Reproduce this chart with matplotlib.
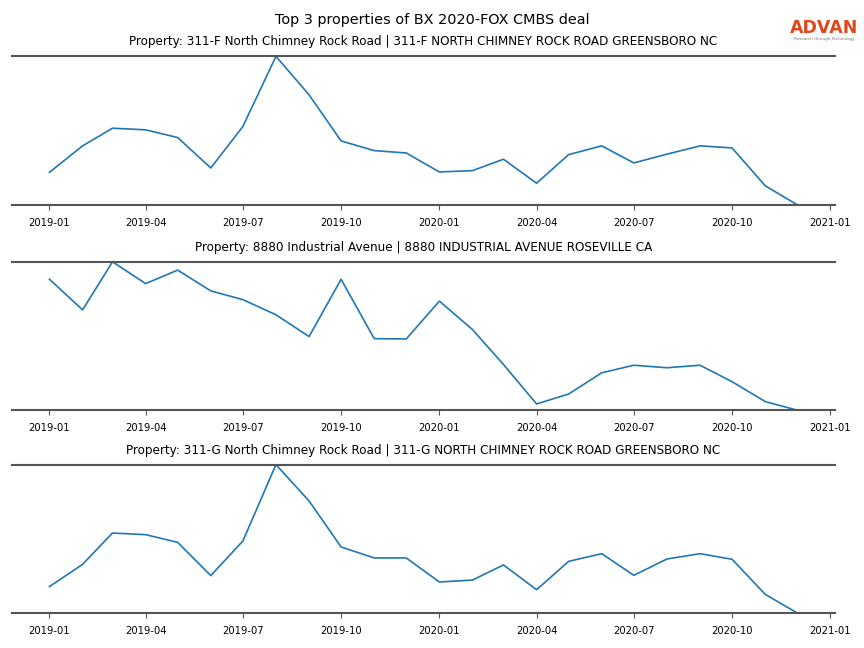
import numpy as np
import pandas as pd
import matplotlib
matplotlib.use('Agg')
import matplotlib.pyplot as plt

months = pd.date_range('2019-01-01', '2020-12-01', freq='MS')

titles = ['Property: 311-F North Chimney Rock Road | 311-F NORTH CHIMNEY ROCK ROAD GREENSBORO NC',
          'Property: 8880 Industrial Avenue | 8880 INDUSTRIAL AVENUE ROSEVILLE CA',
          'Property: 311-G North Chimney Rock Road | 311-G NORTH CHIMNEY ROCK ROAD GREENSBORO NC']

prop_311f = [21.9, 39.7, 51.6, 50.5, 45.3, 24.8, 52.7, 100.0, 74.1, 43.0, 36.5, 34.9,
             22.1, 23.0, 30.7, 14.5, 33.8, 39.7, 28.2, 34.1, 39.7, 38.3, 12.8, 0.0]
prop_8880 = [88.2, 67.6, 100.0, 85.3, 94.4, 80.4, 74.5, 64.3, 49.6, 88.2, 48.2, 48.0,
             73.5, 54.3, 30.8, 4.2, 10.9, 25.2, 30.3, 28.6, 30.3, 19.2, 5.8, 0.0]
prop_311g = [17.8, 32.8, 53.9, 52.8, 47.6, 25.2, 48.5, 100.0, 75.5, 44.5, 37.1, 37.1,
             20.9, 22.2, 32.4, 15.7, 34.8, 40.0, 25.4, 36.4, 40.0, 36.2, 12.6, 0.0]
series = [prop_311f, prop_8880, prop_311g]

fig = plt.figure(figsize=(8.64, 6.48), dpi=100)
fig.suptitle('Top 3 properties of BX 2020-FOX CMBS deal', fontsize=10.4, y=0.98)

bottoms = [0.684, 0.367, 0.054]
for i in range(3):
    ax = fig.add_axes([0.014, bottoms[i], 0.952, 0.229])
    ax.plot(months, series[i], color='#1f77b4', lw=1.2)
    ax.margins(y=0)
    ax.set_title(titles[i], fontsize=8.65, pad=8)
    for s in ['left', 'right']:
        ax.spines[s].set_visible(False)
    for s in ['top', 'bottom']:
        ax.spines[s].set_color('#555555')
        ax.spines[s].set_linewidth(1.5)
    ax.set_yticks([])
    ticks = pd.date_range('2019-01-01', '2021-01-01', freq='QS')
    ax.set_xticks(ticks)
    ax.set_xticklabels([t.strftime('%Y-%m') for t in ticks], fontsize=7.2)
    ax.tick_params(axis='x', length=3.5, pad=6, color='#555555')

# logo
fig.text(0.954, 0.957, 'ADVAN', color='#e0481c', fontsize=12.5, fontweight='bold',
         ha='center', va='center')
fig.text(0.954, 0.940, 'Research through Technology', color='#777777', fontsize=3,
         ha='center', va='center')

fig.savefig('out.png', dpi=100)
